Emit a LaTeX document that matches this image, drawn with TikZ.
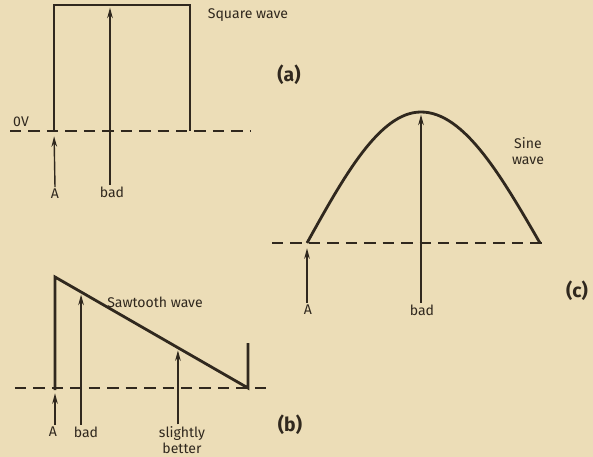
\documentclass[tikz,border=0pt]{standalone}
\usepackage{fontspec}
\setmainfont{Fira Sans}
\usetikzlibrary{arrows.meta,calc}
\definecolor{paper}{RGB}{236,221,183}
\definecolor{ink}{RGB}{48,40,30}
\begin{document}
\begin{tikzpicture}[x=0.02cm, y=-0.02cm,
    every node/.style={font=\fontsize{8}{9}\selectfont, text=ink, inner sep=1pt},
    wave/.style={draw=ink, line width=1.6pt},
    zero/.style={draw=ink, line width=1pt, dash pattern=on 6.5pt off 4pt},
    probe/.style={draw=ink, line width=0.8pt, -{Stealth[length=6pt, width=3.2pt]}},
    tag/.style={font=\fontsize{11}{12}\selectfont\bfseries}]
  % paper
  \fill[paper] (0,0) rectangle (593,457);
  % (a) square wave
  \coordinate (sqA) at (54,131);
  \coordinate (sqB) at (54,5);
  \coordinate (sqC) at (190,5);
  \coordinate (sqD) at (190,131);
  \coordinate (sqtop) at (110,5);
  \coordinate (sqL) at (10,131);
  \coordinate (sqR) at (250,131);
  \draw[zero] (sqL) -- (sqR);
  \draw[wave] (sqA) -- (sqB) -- (sqC) -- (sqD);
  \node (zv) at (21,122) {0V};
  \node (sqname) at (248,15) {Square wave};
  \node[tag] (taga) at (289,75) {(a)};
  \node (sqa) at (55,194) {A};
  \node (sqbad) at (112,192) {bad};
  \draw[probe, shorten >=3pt] (sqa.north) -- (sqA);
  \draw[probe, shorten >=1.5pt] (sqbad.north -| sqtop) -- (sqtop);
  % (c) sine wave
  \coordinate (snA) at (307,243);
  \coordinate (snP) at (421,112);
  \coordinate (snB) at (540,243);
  \coordinate (snL) at (272,243);
  \coordinate (snR) at (548,243);
  \draw[zero] (snL) -- (snR);
  \draw[wave] (snA) sin (snP) cos (snB);
  \node[align=center] (snname) at (528,151) {Sine\\wave};
  \node[tag] (tagc) at (577,291) {(c)};
  \node (sna) at (308,310) {A};
  \node (snbad) at (422,310) {bad};
  \draw[probe, shorten >=3pt] (sna.north -| snA) -- (snA);
  \draw[probe, shorten >=1.5pt] (snbad.north -| snP) -- (snP);
  % (b) sawtooth wave
  \coordinate (stA) at (55,390);
  \coordinate (stT) at (55,277);
  \coordinate (stE) at (248,388);
  \coordinate (stS) at (248,343);
  \coordinate (stL) at (15,388);
  \coordinate (stR) at (268,388);
  \coordinate (stbad) at ($(stT)!0.135!(stE)$);
  \coordinate (stgood) at ($(stT)!0.637!(stE)$);
  \draw[zero] (stL) -- (stR);
  \draw[wave] (stA) -- (stT) -- (stE) -- (stS);
  \node (stname) at (155,302) {Sawtooth wave};
  \node[tag] (tagb) at (290,425) {(b)};
  \node (sta) at (53,432) {A};
  \node (stbadl) at (86,432) {bad};
  \node[align=center] (stgoodl) at (182,440) {slightly\\better};
  \draw[probe, shorten >=3pt] (sta.north -| stT) -- (stE -| stT);
  \draw[probe, shorten >=1.5pt] (stbadl.north -| stbad) -- (stbad);
  \draw[probe, shorten >=1.5pt] (stgoodl.north -| stgood) -- (stgood);
\end{tikzpicture}
\end{document}
